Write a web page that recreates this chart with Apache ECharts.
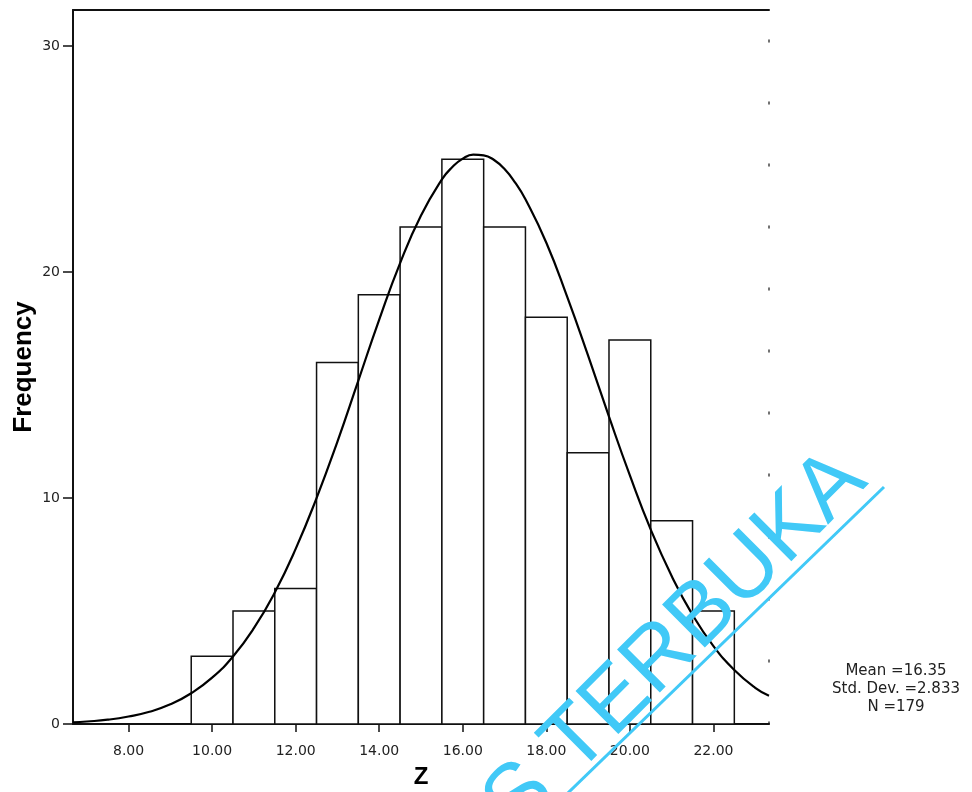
<!DOCTYPE html>
<html>
<head>
<meta charset="utf-8">
<script src="https://cdn.jsdelivr.net/npm/echarts@6/dist/echarts.min.js"></script>
<style>
    html, body { margin: 0; padding: 0; background: #fff; }
    #chart { width: 972px; height: 792px; }
</style>
</head>
<body>
<div id="chart"></div>
<script>
// histogram of Z, bin edges and frequencies
var binEdges = [9.5, 10.5, 11.5, 12.5, 13.5, 14.5, 15.5, 16.5, 17.5, 18.5, 19.5, 20.5, 21.5, 22.5];
var counts = [3, 5, 6, 16, 19, 22, 25, 22, 18, 12, 17, 9, 5];

// normal curve
var curveX = [6.67, 7, 7.5, 8, 8.5, 9, 9.5, 10, 10.5, 11, 11.5, 12, 12.5, 13, 13.5, 14, 14.5, 15, 15.5, 15.75, 16,
    16.25, 16.5, 16.75, 17, 17.25, 17.5, 18, 18.5, 19, 19.5, 20, 20.5, 21, 21.5, 22, 22.5, 23, 23.33];
var curveY = [0.07, 0.11, 0.19, 0.33, 0.54, 0.87, 1.36, 2.05, 2.99, 4.24, 5.82, 7.75, 10.0, 12.5, 15.2, 17.9,
    20.4, 22.5, 24.1, 24.65, 25.02, 25.2, 25.17, 24.96, 24.56, 23.97, 23.22, 21.3, 18.9, 16.3, 13.6, 11.0, 8.6,
    6.55, 4.83, 3.45, 2.39, 1.6, 1.25];

var xTicks = [8, 10, 12, 14, 16, 18, 20, 22];
var yTicks = [0, 10, 20, 30];
var statsLines = ['Mean =16.35', 'Std. Dev. =2.833', 'N =179'];

var myChart = echarts.init(document.getElementById('chart'));

var barData = [];
for (var i = 0; i < counts.length; i++) {
    barData.push([binEdges[i], binEdges[i + 1], counts[i]]);
}
var lineData = [];
for (var j = 0; j < curveX.length; j++) {
    lineData.push([curveX[j], curveY[j]]);
}

myChart.setOption({
    animation: false,
    grid: {left: 73, right: 203, top: 10, bottom: 68, outerBoundsMode: 'none', containLabel: false},
    xAxis: [{
        type: 'value',
        min: 6.67,
        max: 23.33,
        name: 'Z',
        nameLocation: 'middle',
        nameGap: 41,
        nameMoveOverlap: false,
        nameTextStyle: {color: '#000', fontSize: 24, fontWeight: 'bold', fontFamily: 'Liberation Sans'},
        splitLine: {show: false},
        axisLine: {lineStyle: {color: '#111', width: 2}},
        axisTick: {length: 8, customValues: xTicks, lineStyle: {color: '#111', width: 1.5}},
        axisLabel: {
            customValues: xTicks,
            margin: 20,
            color: '#222',
            fontSize: 14,
            fontFamily: 'DejaVu Sans',
            formatter: function (v) {
                return v.toFixed(2);
            }
        }
    }, {
        type: 'value',
        position: 'top',
        min: 6.67,
        max: 23.33,
        splitLine: {show: false},
        axisLine: {onZero: false, lineStyle: {color: '#111', width: 2}},
        axisTick: {show: false},
        axisLabel: {show: false}
    }],
    yAxis: [{
        type: 'value',
        min: 0,
        max: 31.6,
        name: 'Frequency',
        nameLocation: 'middle',
        nameGap: 36,
        nameMoveOverlap: false,
        nameTextStyle: {color: '#000', fontSize: 26, fontWeight: 'bold', fontFamily: 'Liberation Sans'},
        splitLine: {show: false},
        axisLine: {show: true, lineStyle: {color: '#111', width: 2}},
        axisTick: {show: true, length: 10, customValues: yTicks, lineStyle: {color: '#111', width: 1.5}},
        axisLabel: {
            customValues: yTicks,
            margin: 13,
            color: '#222',
            fontSize: 14,
            fontFamily: 'DejaVu Sans'
        }
    }, {
        type: 'value',
        position: 'right',
        min: 0,
        max: 31.6,
        splitLine: {show: false},
        axisLine: {show: true, onZero: false, lineStyle: {color: '#444', width: 1.5, type: [2, 60]}},
        axisTick: {show: false},
        axisLabel: {show: false}
    }],
    series: [{
        type: 'custom',
        xAxisIndex: 0,
        yAxisIndex: 0,
        data: barData,
        encode: {x: [0, 1], y: 2},
        renderItem: function (params, api) {
            var p0 = api.coord([api.value(0), api.value(2)]);
            var p1 = api.coord([api.value(1), 0]);
            return {
                type: 'rect',
                shape: {x: p0[0], y: p0[1], width: p1[0] - p0[0], height: p1[1] - p0[1]},
                style: {fill: '#fff', stroke: '#111', lineWidth: 1.5}
            };
        },
        z: 2
    }, {
        type: 'line',
        xAxisIndex: 0,
        yAxisIndex: 0,
        data: lineData,
        smooth: true,
        showSymbol: false,
        lineStyle: {color: '#000', width: 2.2},
        z: 3
    }],
    graphic: [{
        type: 'group',
        left: 832,
        top: 664,
        children: statsLines.map(function (t, k) {
            return {
                type: 'text',
                x: 66,
                y: k * 18,
                style: {text: t, font: '15px "DejaVu Sans"', fill: '#222', align: 'center'}
            };
        })
    }, {
        type: 'line',
        shape: {x1: 540, y1: 820, x2: 884, y2: 487},
        style: {stroke: '#41c9f7', lineWidth: 3},
        z: 100
    }, {
        type: 'text',
        x: 852,
        y: 466,
        rotation: Math.PI / 4,
        style: {text: 'UNIVERSITAS TERBUKA', font: '88px "Liberation Sans"', fill: '#41c9f7', align: 'right', verticalAlign: 'middle'},
        z: 100
    }]
});
</script>
</body>
</html>
